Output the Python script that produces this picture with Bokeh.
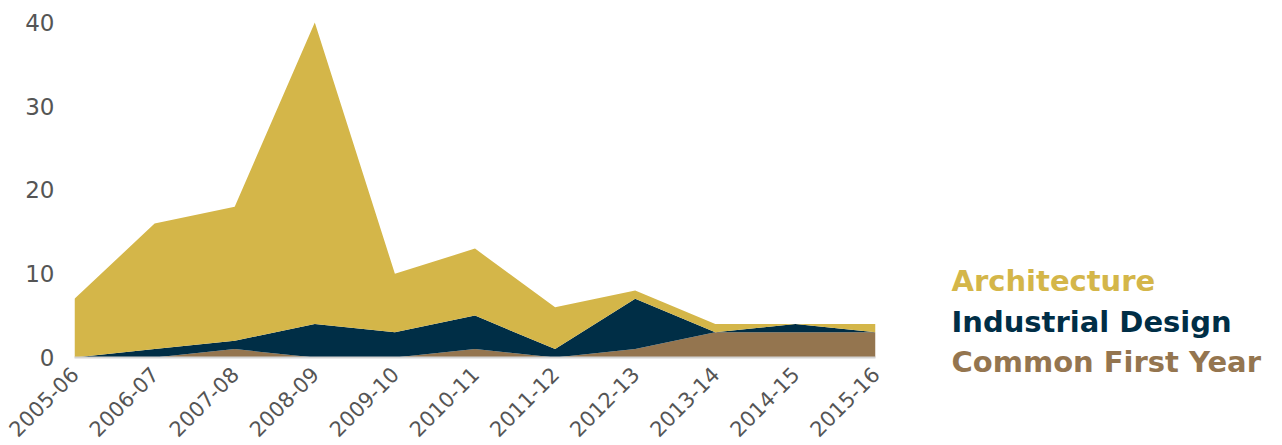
import math
from bokeh.plotting import figure
from bokeh.layouts import row
from bokeh.models import Range1d, FixedTicker
from bokeh.core.properties import value
from bokeh.embed import file_html
from bokeh.resources import INLINE

years = ["2005-06", "2006-07", "2007-08", "2008-09", "2009-10", "2010-11",
         "2011-12", "2012-13", "2013-14", "2014-15", "2015-16"]
common_first_year = [0, 0, 1, 0, 0, 1, 0, 1, 3, 3, 3]
industrial_design = [0, 1, 1, 4, 3, 4, 1, 6, 0, 1, 0]
architecture = [7, 15, 16, 36, 7, 8, 5, 1, 1, 0, 1]
y_ticks = [0, 10, 20, 30, 40]

series = ["Common First Year", "Industrial Design", "Architecture"]
colors = ["#94754F", "#002E46", "#D4B649"]

x = list(range(len(years)))
data = {"x": x, "Common First Year": common_first_year,
        "Industrial Design": industrial_design, "Architecture": architecture}

FONT = "DejaVu Sans"
H = 440
TOP = 13
BOTTOM = 357

p = figure(frame_width=801, frame_height=BOTTOM - TOP, width=900, height=H,
           min_border_left=74, min_border_top=TOP, min_border_right=25, min_border_bottom=H - BOTTOM,
           x_range=Range1d(0, len(years) - 1), y_range=Range1d(0, 41.07),
           output_backend="svg", toolbar_location=None)
p.varea_stack(stackers=series, x="x", source=data, color=colors)

p.grid.visible = False
p.outline_line_color = None

p.xaxis.ticker = FixedTicker(ticks=x)
p.xaxis.major_label_overrides = {i: y for i, y in enumerate(years)}
p.xaxis.major_label_orientation = math.pi / 4
p.xaxis.major_label_text_font = FONT
p.xaxis.major_label_text_font_size = "21px"
p.xaxis.major_label_text_color = "#555555"
p.xaxis.major_tick_line_color = None
p.xaxis.minor_tick_line_color = None
p.xaxis.axis_line_color = "#d4d4d4"
p.xaxis.axis_line_width = 2
p.xaxis.major_label_standoff = 7

p.yaxis.ticker = FixedTicker(ticks=y_ticks)
p.yaxis.major_label_text_font = FONT
p.yaxis.major_label_text_font_size = "23px"
p.yaxis.major_label_text_color = "#555555"
p.yaxis.major_tick_line_color = None
p.yaxis.minor_tick_line_color = None
p.yaxis.axis_line_color = None
p.yaxis.major_label_standoff = 14

# legend panel: a second figure whose ranges are pixels (y measured from top)
LW = 366
leg = figure(width=LW, height=H, frame_width=LW, frame_height=H,
             min_border=0,
             x_range=Range1d(0, LW), y_range=Range1d(H, 0),
             output_backend="svg", toolbar_location=None)
leg.axis.visible = False
leg.grid.visible = False
leg.outline_line_color = None
legend_names = list(reversed(series))
legend_colors = list(reversed(colors))
leg.text(x=[51, 51, 51], y=[267, 308, 348], text=legend_names,
         text_color=legend_colors, text_font=value(FONT), text_font_style="bold",
         text_font_size="29px", text_baseline="alphabetic")

layout = row(p, leg)
open("out.html", "w").write(file_html(layout, INLINE))
